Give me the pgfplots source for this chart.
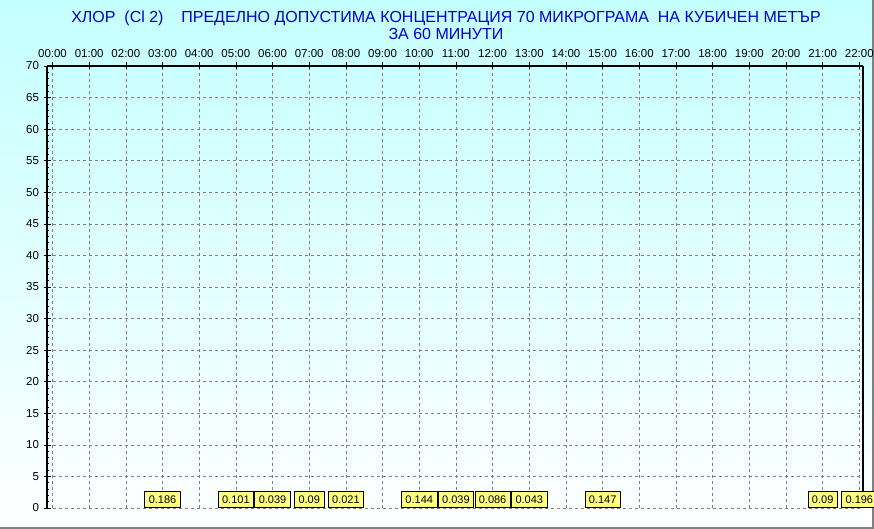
\documentclass[border=0pt]{standalone}
\usepackage{pgfplots}
\pgfplotsset{compat=1.18}
\usepackage{fontspec}
\setmainfont{Liberation Sans}
\definecolor{bgtop}{RGB}{196,255,255}
\definecolor{titleblue}{RGB}{0,0,205}
\definecolor{labelyellow}{RGB}{255,255,128}
\definecolor{gridgray}{RGB}{128,128,128}
\begin{document}
\begin{tikzpicture}[x=1pt,y=1pt]
\shade[top color=bgtop, bottom color=white] (0,0) rectangle (874,529);
\useasboundingbox (0,0) rectangle (874,529);
\draw[gridgray, line width=1.5pt] (0,1) -- (873,1) -- (873,529);
\node[titleblue, font=\fontsize{16}{18}\selectfont] at (446,511) {ХЛОР\ \ (Cl 2)\ \ \ \ ПРЕДЕЛНО ДОПУСТИМА КОНЦЕНТРАЦИЯ 70 МИКРОГРАМА\ \ НА КУБИЧЕН МЕТЪР};
\node[titleblue, font=\fontsize{16}{18}\selectfont] at (446,495) {ЗА 60 МИНУТИ};
\begin{axis}[
  at={(47pt,21pt)}, anchor=south west,
  scale only axis, width=816pt, height=442pt,
  xmin=-0.15, xmax=22.1, ymin=0, ymax=70,
  axis x line*=top, axis y line*=left,
  x axis line style={line width=1.6pt},
  y axis line style={line width=1.6pt},
  xtick={0,...,22},
  xticklabels={00:00,01:00,02:00,03:00,04:00,05:00,06:00,07:00,08:00,09:00,10:00,11:00,12:00,13:00,14:00,15:00,16:00,17:00,18:00,19:00,20:00,21:00,22:00},
  ytick={0,5,...,70},
  minor y tick num=4,
  grid=major,
  major grid style={gridgray, dashed, line width=0.6pt},
  tick style={black, line width=0.6pt},
  major tick length=7pt,
  minor tick length=3pt,
  tick align=center,
  y tick label style={font=\fontsize{11.5}{13}\selectfont, xshift=-1pt},
  x tick label style={font=\fontsize{11.5}{13}\selectfont, yshift=1pt},
  /pgf/number format/assume math mode=true,
  clip=false,
]
\draw[black, line width=1.2pt] (axis cs:22.1,0) -- (axis cs:22.1,70);
\addplot[only marks, mark=none,
  nodes near coords,
  point meta=explicit symbolic,
  nodes near coords style={anchor=south, fill=labelyellow, draw=black, line width=0.6pt,
    font=\fontsize{11}{13}\selectfont, inner xsep=4pt, inner ysep=2pt, minimum height=16pt, text=black}
] table[meta=label] {
x y label
3 0.05 0.186
5 0.05 0.101
6 0.05 0.039
7 0.05 0.09
8 0.05 0.021
10 0.05 0.144
11 0.05 0.039
12 0.05 0.086
13 0.05 0.043
15 0.05 0.147
21 0.05 0.09
22 0.05 0.196
};
\end{axis}
\end{tikzpicture}
\end{document}
